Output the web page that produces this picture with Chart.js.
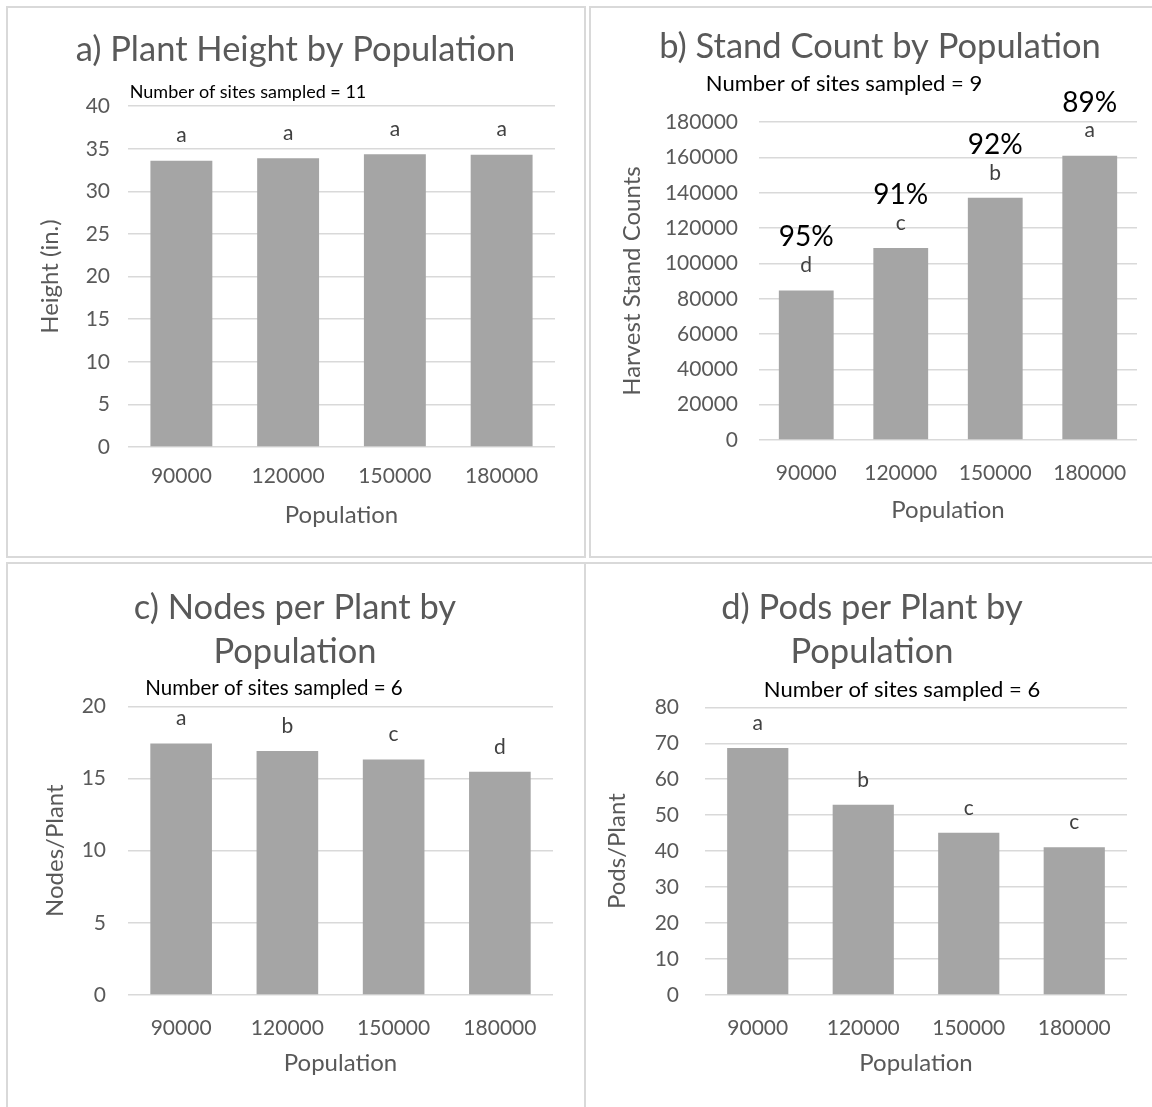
<!DOCTYPE html>
<html>
<head>
<meta charset="utf-8">
<script src="https://cdn.jsdelivr.net/npm/chart.js@4.4.1/dist/chart.umd.min.js"></script>
<style>
body { margin: 0; background: #fff; width: 1152px; height: 1107px; overflow: hidden; position: relative; }
.panel { position: absolute; border: 2px solid #d9d9d9; box-sizing: border-box; background: #fff; }
.panel canvas { display: block; }
</style>
</head>
<body>
<div class="panel" style="left:6px;top:6px;width:580px;height:552px"><canvas id="chartA" width="576" height="548"></canvas></div>
<div class="panel" style="left:589px;top:6px;width:580px;height:552px"><canvas id="chartB" width="576" height="548"></canvas></div>
<div class="panel" style="left:6px;top:562px;width:580px;height:560px"><canvas id="chartC" width="576" height="556"></canvas></div>
<div class="panel" style="left:584px;top:562px;width:580px;height:560px"><canvas id="chartD" width="576" height="556"></canvas></div>
<script>
const categories = ["90000", "120000", "150000", "180000"];

const heightValues = [33.6, 33.9, 34.35, 34.3];
const heightLetters = ["a", "a", "a", "a"];

const standValues = [84700, 108800, 137200, 161000];
const standLetters = ["d", "c", "b", "a"];
const standPercent = ["95%", "91%", "92%", "89%"];

const nodesValues = [17.42, 16.91, 16.31, 15.46];
const nodesLetters = ["a", "b", "c", "d"];

const podsValues = [68.7, 52.9, 45.1, 41.1];
const podsLetters = ["a", "b", "c", "c"];

const FONT = "Lato";
const GREY_TEXT = "#595959";

// letters / percentages above the bars + the "Number of sites" note
const barNotes = {
    id: "barNotes",
    afterDatasetsDraw(chart, args, opts) {
        const ctx = chart.ctx;
        const meta = chart.getDatasetMeta(0);
        ctx.save();
        ctx.textAlign = "center";
        ctx.textBaseline = "middle";
        meta.data.forEach((bar, i) => {
            ctx.font = "21px " + FONT;
            ctx.fillStyle = "#404040";
            ctx.fillText(opts.letters[i], bar.x, bar.y - 25);
            if (opts.percent) {
                ctx.font = "28px " + FONT;
                ctx.fillStyle = "#000";
                ctx.fillText(opts.percent[i], bar.x, bar.y - 53);
            }
        });
        if (opts.note) {
            ctx.font = opts.note.size + "px " + FONT;
            ctx.fillStyle = "#000";
            ctx.fillText(opts.note.text, opts.note.x, opts.note.y);
        }
        ctx.restore();
    },
};

function makeChart(id, c) {
    return new Chart(id, {
        type: "bar",
        data: {
            labels: categories,
            datasets: [{
                data: c.values,
                backgroundColor: "#a5a5a5",
                categoryPercentage: 1,
                barPercentage: 0.58,
            }],
        },
        options: {
            responsive: false,
            animation: false,
            layout: { padding: { top: 0, right: c.right, bottom: 0, left: c.left } },
            plugins: {
                legend: { display: false },
                tooltip: { enabled: false },
                title: {
                    display: true,
                    text: c.title,
                    color: GREY_TEXT,
                    font: { family: FONT, size: 34.5, weight: "normal", lineHeight: 1.28 },
                    padding: { top: c.titleTop, bottom: c.titleBottom },
                },
                barNotes: { letters: c.letters, percent: c.percent, note: c.note },
            },
            scales: {
                x: {
                    grid: { display: false },
                    border: { display: false },
                    ticks: { color: GREY_TEXT, padding: c.xTickPad, font: { family: FONT, size: 21 } },
                    title: {
                        display: true,
                        text: "Population",
                        color: GREY_TEXT,
                        font: { family: FONT, size: 24 },
                        padding: { top: 0, bottom: c.xTitlePad },
                    },
                    afterFit: (s) => { s.height = c.xHeight; },
                },
                y: {
                    min: 0,
                    max: c.yMax,
                    grid: { color: "#d9d9d9", lineWidth: 1.5, drawTicks: false },
                    border: { display: false },
                    ticks: {
                        stepSize: c.yStep,
                        color: GREY_TEXT,
                        padding: c.yTickPad,
                        font: { family: FONT, size: 21 },
                        callback: (v) => String(v),
                    },
                    title: {
                        display: true,
                        text: c.yTitle,
                        color: GREY_TEXT,
                        font: { family: FONT, size: 24 },
                        padding: { top: c.yTitlePad, bottom: 0 },
                    },
                    afterFit: (s) => { s.width = c.yWidth; },
                },
            },
        },
        plugins: [barNotes],
    });
}

makeChart("chartA", {
    values: heightValues, letters: heightLetters,
    title: "a) Plant Height by Population", titleTop: 20, titleBottom: 34,
    note: { text: "Number of sites sampled = 11", x: 240, y: 84, size: 18 },
    yTitle: "Height (in.)", yMax: 40, yStep: 5,
    left: 28, right: 29, yWidth: 92, yTitlePad: 0, yTickPad: 18, xHeight: 109, xTickPad: 9, xTitlePad: 26,
});

makeChart("chartB", {
    values: standValues, letters: standLetters, percent: standPercent,
    title: "b) Stand Count by Population", titleTop: 17, titleBottom: 53,
    note: { text: "Number of sites sampled = 9", x: 253, y: 76, size: 22 },
    yTitle: "Harvest Stand Counts", yMax: 180000, yStep: 20000,
    left: 32, right: 30, yWidth: 136, yTitlePad: -5, yTickPad: 21, xHeight: 116, xTickPad: 13, xTitlePad: 31,
});

makeChart("chartC", {
    values: nodesValues, letters: nodesLetters,
    title: ["c) Nodes per Plant by", "Population"], titleTop: 22, titleBottom: 32,
    note: { text: "Number of sites sampled = 6", x: 266, y: 124, size: 20.5 },
    yTitle: "Nodes/Plant", yMax: 20, yStep: 5,
    left: 29, right: 31, yWidth: 91, yTitlePad: 4, yTickPad: 22, xHeight: 125, xTickPad: 13, xTitlePad: 42,
});

makeChart("chartD", {
    values: podsValues, letters: podsLetters,
    title: ["d) Pods per Plant by", "Population"], titleTop: 22, titleBottom: 33,
    note: { text: "Number of sites sampled = 6", x: 316, y: 126, size: 22 },
    yTitle: "Pods/Plant", yMax: 80, yStep: 10,
    left: 31, right: 35, yWidth: 88, yTitlePad: -14, yTickPad: 26, xHeight: 125, xTickPad: 13, xTitlePad: 42,
});
</script>
</body>
</html>
